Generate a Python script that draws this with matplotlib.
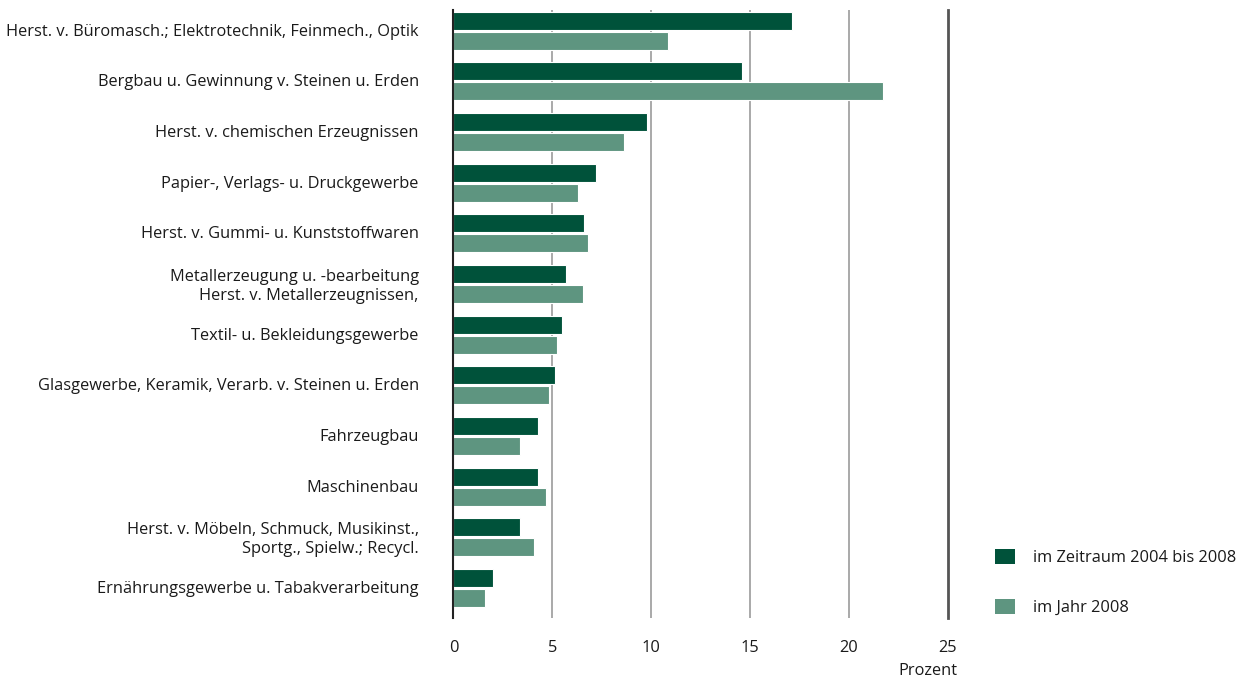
import matplotlib
matplotlib.use("Agg")
import matplotlib.pyplot as plt
from matplotlib.patches import Patch
import numpy as np

plt.rcParams['font.family'] = ['Open Sans', 'DejaVu Sans']

categories = [
    "Herst. v. Büromasch.; Elektrotechnik, Feinmech., Optik",
    "Bergbau u. Gewinnung v. Steinen u. Erden",
    "Herst. v. chemischen Erzeugnissen",
    "Papier-, Verlags- u. Druckgewerbe",
    "Herst. v. Gummi- u. Kunststoffwaren",
    "Metallerzeugung u. -bearbeitung\nHerst. v. Metallerzeugnissen,",
    "Textil- u. Bekleidungsgewerbe",
    "Glasgewerbe, Keramik, Verarb. v. Steinen u. Erden",
    "Fahrzeugbau",
    "Maschinenbau",
    "Herst. v. Möbeln, Schmuck, Musikinst.,\nSportg., Spielw.; Recycl.",
    "Ernährungsgewerbe u. Tabakverarbeitung",
]
zeitraum_2004_2008 = [17.1, 14.6, 9.8, 7.2, 6.6, 5.7, 5.5, 5.15, 4.3, 4.25, 3.35, 2.0]
jahr_2008 = [10.85, 21.7, 8.6, 6.3, 6.8, 6.55, 5.25, 4.85, 3.35, 4.7, 4.05, 1.6]
x_ticks = [0, 5, 10, 15, 20, 25]

dark = "#00523A"
light = "#5E9580"
text_col = "#1a1a1a"
fs = 11.75

fig = plt.figure(figsize=(12.52, 6.81), dpi=100)
ax = fig.add_axes([0.3622, 0.0925, 0.757 - 0.3622, 0.9853 - 0.0925])

pos = np.arange(len(categories))
h = 0.36
ax.barh(pos + 0.21, zeitraum_2004_2008, height=h, color=dark,
        edgecolor="white", linewidth=0.8, zorder=3)
ax.barh(pos + 0.605, jahr_2008, height=h, color=light,
        edgecolor="white", linewidth=0.8, zorder=3)

ax.set_ylim(len(categories), 0)
ax.set_xlim(0, 25)

ax.set_yticks(pos + 0.39)
ax.set_yticklabels(categories, fontsize=fs, color=text_col, ha="right",
                   multialignment="right")
ax.tick_params(axis="y", length=0, pad=25)
ax.set_xticks(x_ticks)
ax.set_xticklabels([str(t) for t in x_ticks], fontsize=fs, color=text_col)
ax.tick_params(axis="x", length=0, pad=16)

for v in x_ticks[1:-1]:
    ax.axvline(v, color="#a3a3a3", linewidth=1.3, zorder=1)

for s in ("top", "bottom"):
    ax.spines[s].set_visible(False)
ax.spines["left"].set_color("#222222")
ax.spines["left"].set_linewidth(1.5)
ax.spines["left"].set_zorder(4)
ax.spines["right"].set_color("#555555")
ax.spines["right"].set_linewidth(2.0)

fig.text(957 / 1252, 1 - 671 / 681, "Prozent", fontsize=fs, color=text_col,
         ha="right", va="center")

handles = [Patch(facecolor=dark, edgecolor="none"),
           Patch(facecolor=light, edgecolor="none")]
fig.legend(handles, ["im Zeitraum 2004 bis 2008", "im Jahr 2008"],
           loc="upper left", bbox_to_anchor=(995 / 1252, 1 - 549 / 681),
           frameon=False, fontsize=fs, handlelength=1.2, handleheight=1.08,
           handletextpad=1.1, labelspacing=2.0, labelcolor=text_col,
           borderpad=0, borderaxespad=0)

fig.savefig("out.png", dpi=100, facecolor="white")
